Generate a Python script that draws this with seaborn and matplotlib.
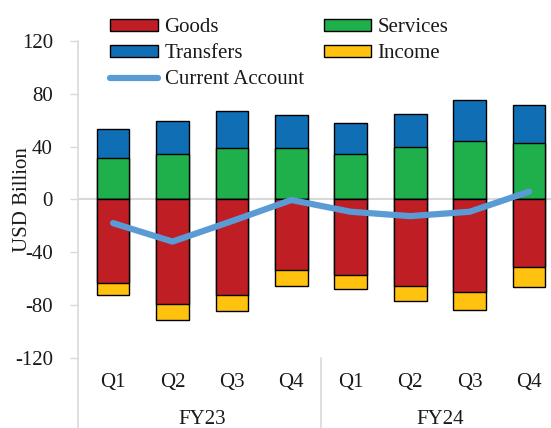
import numpy as np
import pandas as pd
import matplotlib
matplotlib.use("Agg")
import matplotlib.pyplot as plt
import matplotlib.transforms as mtransforms
from matplotlib.patches import Patch
from matplotlib.lines import Line2D
import seaborn as sns

# Dados (USD bilhões)
trimestres = ["Q1", "Q2", "Q3", "Q4", "Q1", "Q2", "Q3", "Q4"]
anos = ["FY23", "FY24"]
goods = [-63.6, -79.0, -72.5, -53.6, -57.6, -65.7, -70.2, -51.0]
services = [31.0, 34.3, 38.6, 38.6, 34.3, 39.9, 44.4, 42.4]
transfers = [22.3, 25.0, 28.5, 25.2, 23.7, 25.0, 30.6, 29.0]
income = [-9.1, -12.7, -12.3, -12.4, -10.6, -11.3, -13.7, -15.7]
current_account = [-18.0, -32.0, -16.5, -0.5, -9.4, -12.7, -9.4, 5.8]

COR_GOODS = "#BE1E24"
COR_SERV = "#1FB04C"
COR_TRANSF = "#106EB5"
COR_INCOME = "#FFC20E"
COR_CA = "#5B9BD5"
CINZA = "#D9D9D9"
TEXTO = "#1a1a1a"
FS = 15


def montar_df():
    rotulos = [f"{anos[i // 4]} {q}" for i, q in enumerate(trimestres)]
    df = pd.DataFrame({
        "Periodo": rotulos,
        "Goods": goods,
        "Services": services,
        "Transfers": transfers,
        "Income": income,
        "CA": current_account,
    })
    df["PosTopo"] = df["Services"] + df["Transfers"]
    df["NegBase"] = df["Goods"] + df["Income"]
    return df


def exibir_grafico(df):
    sns.set_style("white")
    plt.rcParams["font.family"] = ["Liberation Serif", "DejaVu Serif"]
    plt.rcParams["font.size"] = FS
    plt.rcParams["axes.unicode_minus"] = False

    fig = plt.figure(figsize=(5.51, 4.28), dpi=100)
    ax = fig.add_axes([78 / 551, 1 - 357.7 / 428, 1 - 78 / 551, (357.7 - 41) / 428])

    ordem = list(df["Periodo"])
    kw = dict(order=ordem, width=0.55, edgecolor="black", linewidth=1.0, ax=ax,
              native_scale=False)
    # empilhamento: barra total desenhada primeiro, componente interno por cima
    sns.barplot(data=df, x="Periodo", y="PosTopo", color=COR_TRANSF, saturation=1, **kw)
    sns.barplot(data=df, x="Periodo", y="Services", color=COR_SERV, saturation=1, **kw)
    sns.barplot(data=df, x="Periodo", y="NegBase", color=COR_INCOME, saturation=1, **kw)
    sns.barplot(data=df, x="Periodo", y="Goods", color=COR_GOODS, saturation=1, **kw)

    ax.axhline(0, color=CINZA, lw=1.5, zorder=0.5)

    sns.lineplot(x=np.arange(len(df)), y=df["CA"].values, color=COR_CA, lw=4.5,
                 ax=ax, zorder=5, solid_capstyle="round")

    ax.set_xlim(-0.59, 7.37)
    ax.set_ylim(-120, 120)
    ax.set_yticks(np.arange(-120, 121, 40))
    ax.tick_params(axis="y", which="both", left=True, length=6, width=1,
                   color=CINZA, pad=12, labelsize=FS, labelcolor=TEXTO)
    ax.set_xticks([])
    ax.set_xlabel("")
    ax.set_ylabel("USD Billion", fontsize=FS, color=TEXTO)
    ax.yaxis.set_label_coords(-0.098, 0.5)

    for s in ax.spines.values():
        s.set_visible(False)

    trans = mtransforms.blended_transform_factory(ax.transData, ax.transAxes)
    # linha do eixo vertical e divisórias das categorias
    ax.plot([-0.59, -0.59], [1.0, -0.25], transform=trans, color=CINZA, lw=1.2,
            clip_on=False)
    ax.plot([3.5, 3.5], [0.0, -0.25], transform=trans, color=CINZA, lw=1.2,
            clip_on=False)

    for i, q in enumerate(trimestres):
        ax.text(i, -0.077, q, transform=trans, ha="center", va="center",
                fontsize=FS, color=TEXTO)
    for j, fy in enumerate(anos):
        ax.text(1.5 + 4 * j, -0.195, fy, transform=trans, ha="center",
                va="center", fontsize=FS, color=TEXTO)

    handles = [
        Patch(facecolor=COR_GOODS, edgecolor="black", label="Goods"),
        Patch(facecolor=COR_TRANSF, edgecolor="black", label="Transfers"),
        Line2D([0], [0], color=COR_CA, lw=4.5, label="Current Account"),
        Patch(facecolor=COR_SERV, edgecolor="black", label="Services"),
        Patch(facecolor=COR_INCOME, edgecolor="black", label="Income"),
    ]
    fig.legend(handles=handles, ncol=2, loc="upper left",
               bbox_to_anchor=(100 / 551, 1 - 8 / 428), frameon=False,
               fontsize=FS, handlelength=2.3, handleheight=0.5,
               handletextpad=0.3, columnspacing=0.95, labelspacing=0.33,
               borderpad=0.0, labelcolor=TEXTO)

    fig.savefig("out.png", dpi=100)


def main():
    df = montar_df()
    exibir_grafico(df)


if __name__ == "__main__":
    main()
